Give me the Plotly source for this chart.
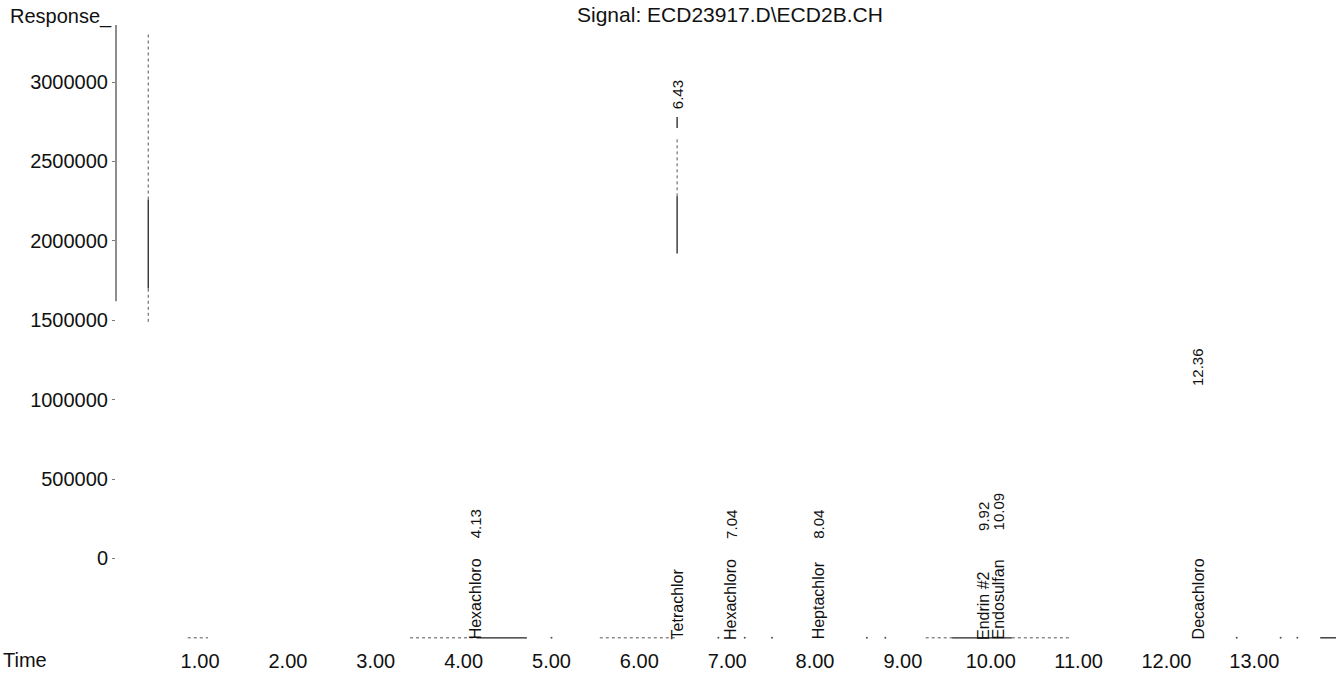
import plotly.graph_objects as go

# ---- data ----
signal_name = "Signal: ECD23917.D\\ECD2B.CH"
x_ticks = [1, 2, 3, 4, 5, 6, 7, 8, 9, 10, 11, 12, 13]
y_ticks = [0, 500000, 1000000, 1500000, 2000000, 2500000, 3000000]

peak_times = [4.13, 6.43, 7.04, 8.04, 9.92, 10.09, 12.36]
peak_names = ["Hexachloro", "Tetrachlor", "Hexachloro", "Heptachlor",
              "Endrin #2", "Endosulfan", "Decachloro"]
peak_rt_text = ["4.13", "6.43", "7.04", "8.04", "9.92", "10.09", "12.36"]
peak_rt_label_resp = [118000, 2820000, 118000, 118000, 168000, 168000, 1080000]

baseline_resp = -500000

# visible dark pieces of the trace (time, response), None = gap
solid_time = [0.41, 0.41, None, 6.43, 6.43, None, 6.43, 6.43, None,
              4.15, 4.72, None, 9.56, 10.24, None, 13.75, 13.93]
solid_resp = [1700000, 2260000, None, 1920000, 2280000, None, 2710000, 2780000, None,
              baseline_resp, baseline_resp, None, baseline_resp, baseline_resp, None,
              baseline_resp, baseline_resp]

# faint / broken pieces of the trace
faint_time = [0.41, 0.41, None, 0.41, 0.41, None, 6.43, 6.43, None,
              0.86, 1.09, None, 3.39, 4.15, None, 5.55, 6.42, None,
              9.26, 9.56, None, 10.24, 10.92]
faint_resp = [2260000, 3310000, None, 1490000, 1700000, None, 2280000, 2640000, None,
              baseline_resp, baseline_resp, None, baseline_resp, baseline_resp, None,
              baseline_resp, baseline_resp, None,
              baseline_resp, baseline_resp, None, baseline_resp, baseline_resp]

speck_time = [5.0, 6.9, 7.2, 7.51, 8.59, 8.8, 12.8, 13.3, 13.49]
speck_resp = [baseline_resp] * len(speck_time)

x_range = [0.043, 13.93]
y_range = [-520000, 3359000]

FONT = "Liberation Sans, Arial, sans-serif"

fig = go.Figure()
fig.add_trace(go.Scatter(x=faint_time, y=faint_resp, mode="lines",
                         line=dict(color="#555555", width=1, dash="3px,3px"),
                         hoverinfo="skip", showlegend=False))
fig.add_trace(go.Scatter(x=solid_time, y=solid_resp, mode="lines",
                         line=dict(color="#222222", width=1.3),
                         hoverinfo="skip", showlegend=False))
fig.add_trace(go.Scatter(x=speck_time, y=speck_resp, mode="markers",
                         marker=dict(color="#555555", size=2),
                         hoverinfo="skip", showlegend=False))

annotations = []
for t, name, rt, rr in zip(peak_times, peak_names, peak_rt_text, peak_rt_label_resp):
    annotations.append(dict(x=t, y=baseline_resp, xref="x", yref="y", text=name,
                            textangle=-90, showarrow=False, xanchor="center",
                            yanchor="bottom", borderpad=0, yshift=-3,
                            font=dict(family=FONT, size=16, color="#111111")))
    annotations.append(dict(x=t, y=rr, xref="x", yref="y", text=rt,
                            textangle=-90, showarrow=False, xanchor="center",
                            yanchor="bottom", borderpad=0,
                            font=dict(family=FONT, size=15, color="#111111")))

annotations.append(dict(x=0.503, y=1, xref="paper", yref="paper", text=signal_name,
                        showarrow=False, xanchor="center", yanchor="bottom", yshift=-3,
                        font=dict(family=FONT, size=21, color="#111111")))
annotations.append(dict(x=-0.0885, y=1, xref="paper", yref="paper", text="Response_",
                        showarrow=False, xanchor="left", yanchor="bottom", yshift=-5,
                        font=dict(family=FONT, size=20, color="#111111")))
annotations.append(dict(x=-0.094, y=-0.031, xref="paper", yref="paper", text="Time",
                        showarrow=False, xanchor="left", yanchor="middle",
                        font=dict(family=FONT, size=20, color="#111111")))

fig.update_layout(
    width=1336, height=674,
    margin=dict(l=116, r=0, t=25, b=33, autoexpand=False),
    paper_bgcolor="white", plot_bgcolor="white",
    annotations=annotations,
    shapes=[dict(type="line", xref="paper", yref="y", x0=0, x1=0,
                 y0=1620000, y1=y_range[1], line=dict(color="#444444", width=1.2))],
    xaxis=dict(range=x_range, tickvals=x_ticks, tickformat=".2f", automargin=False,
               showgrid=False, zeroline=False, showline=False, ticks="",
               ticklabelstandoff=6,
               tickfont=dict(family=FONT, size=20, color="#111111")),
    yaxis=dict(range=y_range, tickvals=y_ticks, tickformat="d", automargin=False,
               showgrid=False, zeroline=False, showline=False,
               ticks="outside", ticklen=3, tickcolor="#777777",
               tickfont=dict(family=FONT, size=20, color="#111111")),
)

fig.write_html("out.html", config={"displayModeBar": False},
               post_script="document.body.style.margin='0';document.body.style.padding='0';")
